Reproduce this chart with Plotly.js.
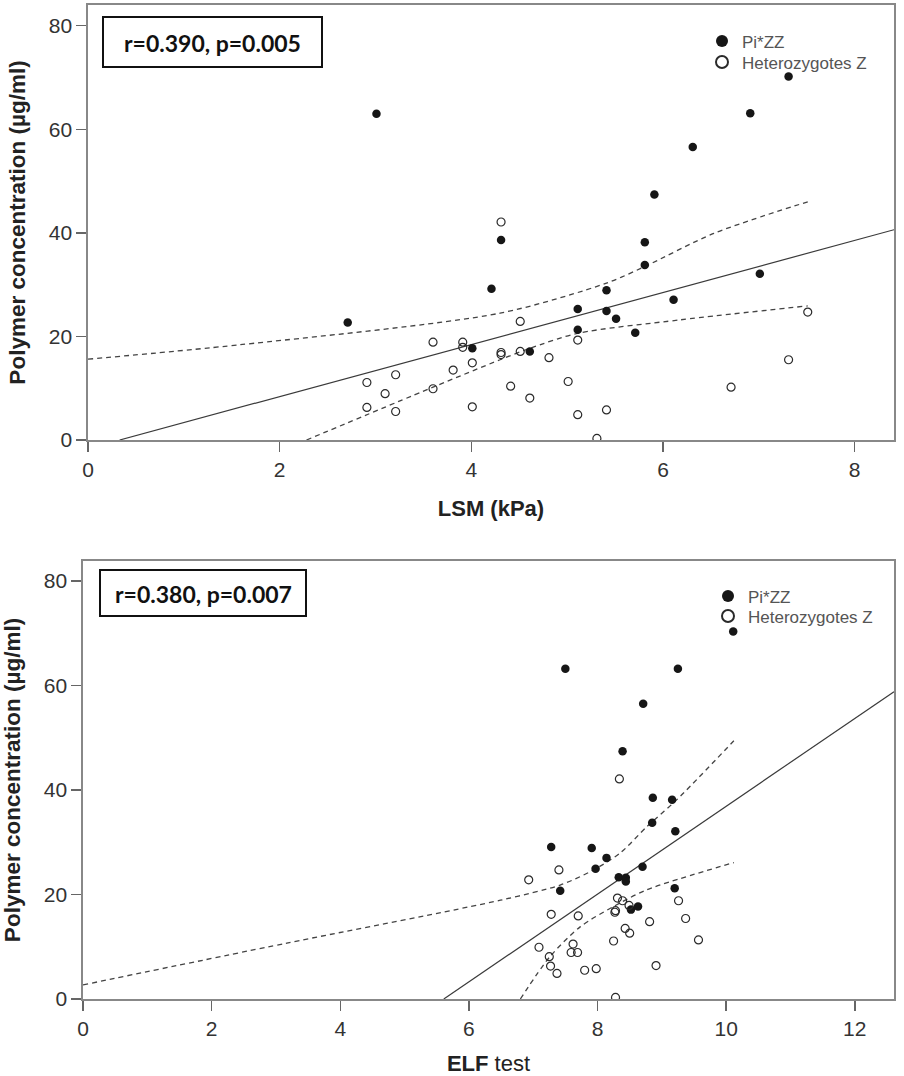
<!DOCTYPE html>
<html>
<head>
<meta charset="utf-8">
<script src="https://cdn.plot.ly/plotly-3.0.1.min.js"></script>
<style>html,body{margin:0;padding:0;background:#fff;}#chart{width:904px;height:1076px;}</style>
</head>
<body>
<div id="chart"></div>
<script>
// ---------- Data: LSM panel ----------
var lsmZZ_x = [2.71,3.01,4.01,4.21,4.31,4.61,5.11,5.11,5.41,5.41,5.51,5.71,5.81,5.81,5.91,6.11,6.31,6.91,7.01,7.31];
var lsmZZ_y = [22.7,63.0,17.7,29.2,38.6,17.1,25.3,21.3,28.9,24.9,23.4,20.7,38.2,33.8,47.4,27.1,56.6,63.1,32.1,70.2];
var lsmHet_x = [2.91,2.91,3.10,3.21,3.21,3.60,3.60,3.81,3.91,3.91,4.01,4.01,4.31,4.31,4.31,4.41,4.51,4.51,4.61,4.81,5.01,5.11,5.11,5.31,5.41,6.71,7.31,7.51];
var lsmHet_y = [11.1,6.3,8.95,12.6,5.5,18.9,9.9,13.5,18.9,17.9,14.9,6.4,42.1,16.9,16.5,10.4,22.9,17.1,8.1,15.9,11.3,19.3,4.9,0.3,5.8,10.2,15.5,24.7];
var lsmFit_x = [0.33, 8.41];
var lsmFit_y = [0, 40.6];
var lsmUpper_x = [0, 1.59, 4.30, 5.41, 5.81, 6.53, 7.51];
var lsmUpper_y = [15.6, 18.4, 24.5, 30.3, 33.5, 39.9, 46.0];
var lsmLower_x = [2.28, 3.60, 4.30, 4.61, 5.11, 6.18, 7.51];
var lsmLower_y = [0, 10.2, 15.5, 17.7, 20.6, 23.2, 25.9];

// ---------- Data: ELF panel ----------
var elfZZ_x = [7.50,9.25,10.11,8.71,8.39,8.86,9.16,8.85,9.21,7.28,7.91,8.14,7.97,8.70,8.33,8.44,8.44,7.42,9.20,8.52,8.63];
var elfZZ_y = [63.2,63.2,70.3,56.5,47.4,38.5,38.1,33.7,32.1,29.1,28.9,27.0,24.9,25.3,23.3,23.2,22.5,20.7,21.2,17.1,17.7];
var elfHet_x = [8.34,6.93,7.40,7.28,7.70,8.31,8.39,8.28,8.27,8.49,9.26,9.37,8.81,8.43,8.50,8.25,9.57,7.09,7.62,7.59,7.69,7.25,7.27,7.37,7.80,7.98,8.91,8.28];
var elfHet_y = [42.1,22.8,24.7,16.2,15.9,19.3,18.8,16.9,16.6,17.9,18.8,15.4,14.8,13.5,12.6,11.1,11.3,9.9,10.5,8.9,8.9,8.1,6.3,4.9,5.5,5.8,6.4,0.3];
var elfFit_x = [5.61, 12.61];
var elfFit_y = [0, 58.8];
var elfUpper_x = [0, 3.17, 6.49, 7.42, 7.94, 8.35, 8.77, 9.23, 10.12];
var elfUpper_y = [2.7, 10.7, 18.9, 21.8, 24.7, 27.9, 33.0, 38.1, 49.4];
var elfLower_x = [6.80, 7.26, 7.73, 8.25, 8.77, 10.12];
var elfLower_y = [0, 8.1, 13.8, 17.7, 20.9, 26.1];

var groupNames = ['Pi*ZZ', 'Heterozygotes Z'];
var statLabels = ['r=0.390, p=0.005', 'r=0.380, p=0.007'];
var xTicksLSM = [0, 2, 4, 6, 8];
var xTicksELF = [0, 2, 4, 6, 8, 10, 12];
var yTicks = [0, 20, 40, 60, 80];

// ---------- Styles ----------
var W = 904, H = 1076;
var FONT = 'Liberation Sans, Arial, sans-serif';
var filledMarker = {symbol: 'circle', size: 8.5, color: '#161616', line: {width: 0}};
var openMarker = {symbol: 'circle-open', size: 8, color: '#2a2a2a', line: {width: 1.2}};
var solidLine = {color: '#3a3a3a', width: 1.2};
var dashLine = {color: '#444', width: 1.3, dash: '5px,4px', shape: 'spline', smoothing: 0.8};

function px(x) { return x / W; }
function py(y) { return 1 - y / H; }

var traces = [
  // top panel
  {x: lsmFit_x, y: lsmFit_y, xaxis: 'x', yaxis: 'y', mode: 'lines', line: solidLine, showlegend: false, hoverinfo: 'skip'},
  {x: lsmUpper_x, y: lsmUpper_y, xaxis: 'x', yaxis: 'y', mode: 'lines', line: dashLine, showlegend: false, hoverinfo: 'skip'},
  {x: lsmLower_x, y: lsmLower_y, xaxis: 'x', yaxis: 'y', mode: 'lines', line: dashLine, showlegend: false, hoverinfo: 'skip'},
  {x: lsmZZ_x, y: lsmZZ_y, xaxis: 'x', yaxis: 'y', mode: 'markers', name: groupNames[0], marker: filledMarker, legend: 'legend'},
  {x: lsmHet_x, y: lsmHet_y, xaxis: 'x', yaxis: 'y', mode: 'markers', name: groupNames[1], marker: openMarker, legend: 'legend3'},
  // bottom panel
  {x: elfFit_x, y: elfFit_y, xaxis: 'x2', yaxis: 'y2', mode: 'lines', line: solidLine, showlegend: false, hoverinfo: 'skip'},
  {x: elfUpper_x, y: elfUpper_y, xaxis: 'x2', yaxis: 'y2', mode: 'lines', line: dashLine, showlegend: false, hoverinfo: 'skip'},
  {x: elfLower_x, y: elfLower_y, xaxis: 'x2', yaxis: 'y2', mode: 'lines', line: dashLine, showlegend: false, hoverinfo: 'skip'},
  {x: elfZZ_x, y: elfZZ_y, xaxis: 'x2', yaxis: 'y2', mode: 'markers', name: groupNames[0], marker: filledMarker, legend: 'legend2'},
  {x: elfHet_x, y: elfHet_y, xaxis: 'x2', yaxis: 'y2', mode: 'markers', name: groupNames[1], marker: openMarker, legend: 'legend4'}
];

function xAxis(domain, range, ticks, title, anchor) {
  return {
    domain: domain, range: range, anchor: anchor, tickvals: ticks,
    ticks: 'outside', ticklen: 10, tickwidth: 1.5, tickcolor: '#666',
    showline: true, mirror: true, linecolor: '#888', linewidth: 1.6,
    showgrid: false, zeroline: false,
    tickfont: {family: FONT, size: 21, color: '#333'},
    title: {text: title, font: {family: FONT, size: 22, color: '#222'}, standoff: 21}
  };
}
function yAxis(domain, range, anchor) {
  return {
    domain: domain, range: range, anchor: anchor, tickvals: yTicks,
    ticks: 'outside', ticklen: 10, tickwidth: 1.5, tickcolor: '#666',
    showline: true, mirror: true, linecolor: '#888', linewidth: 1.6,
    showgrid: false, zeroline: false,
    tickfont: {family: FONT, size: 21, color: '#333'},
    title: {text: '<b>Polymer concentration (µg/ml)</b>', font: {family: FONT, size: 22.5, color: '#222'}, standoff: 17}
  };
}

function legendAt(xPix, yPix) {
  return {
    x: px(xPix), y: py(yPix), xanchor: 'left', yanchor: 'middle',
    bgcolor: 'rgba(0,0,0,0)', borderwidth: 0,
    font: {family: FONT, size: 17, color: '#555'}, itemsizing: 'constant'
  };
}

var layout = {
  width: W, height: H,
  margin: {l: 0, r: 0, t: 0, b: 0},
  paper_bgcolor: '#fff', plot_bgcolor: '#fff',
  showlegend: true,
  xaxis: xAxis([px(88), px(894)], [0, 8.41], xTicksLSM, '<b>LSM (kPa)</b>', 'y'),
  yaxis: yAxis([py(440), py(5)], [0, 84], 'x'),
  xaxis2: xAxis([px(83), px(894)], [0, 12.61], xTicksELF, '<b>ELF</b> test', 'y2'),
  yaxis2: yAxis([py(999), py(561)], [0, 83.8], 'x2'),
  legend: legendAt(702, 41.5),
  legend3: legendAt(702, 62.5),
  legend2: legendAt(708, 596.5),
  legend4: legendAt(708, 616.5),
  shapes: [
    {type: 'rect', xref: 'paper', yref: 'paper', x0: px(103), x1: px(322), y0: py(67), y1: py(17), line: {color: '#111', width: 2}},
    {type: 'rect', xref: 'paper', yref: 'paper', x0: px(100), x1: px(306), y0: py(616), y1: py(570), line: {color: '#111', width: 2}}
  ],
  annotations: [
    {xref: 'paper', yref: 'paper', x: px(212), y: py(43), text: '<b>' + statLabels[0] + '</b>', showarrow: false,
     font: {family: 'Lato, Open Sans, sans-serif', size: 23, color: '#111'}, xanchor: 'center', yanchor: 'middle'},
    {xref: 'paper', yref: 'paper', x: px(203), y: py(594), text: '<b>' + statLabels[1] + '</b>', showarrow: false,
     font: {family: 'Lato, Open Sans, sans-serif', size: 23, color: '#111'}, xanchor: 'center', yanchor: 'middle'}
  ]
};

Plotly.newPlot('chart', traces, layout, {staticPlot: true, displayModeBar: false});
</script>
</body>
</html>
